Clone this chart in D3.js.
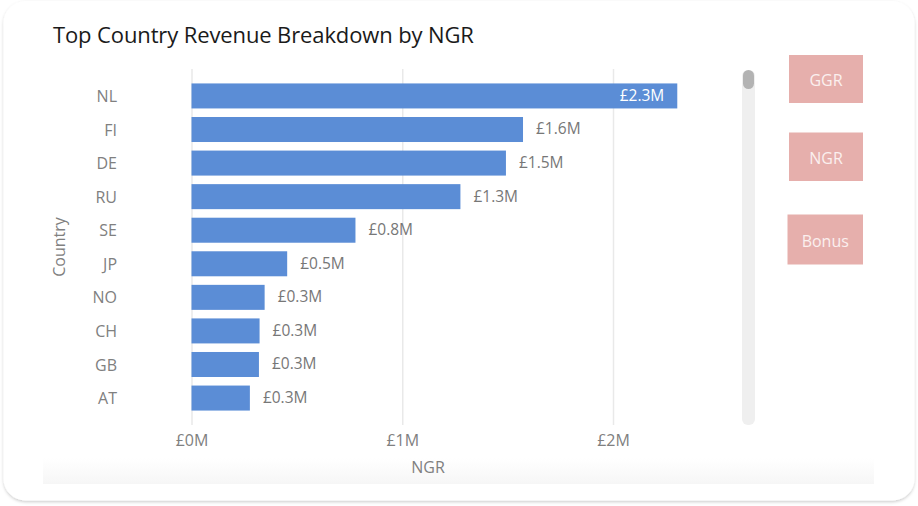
<!DOCTYPE html>
<html>
<head>
<meta charset="utf-8">
<script src="https://cdn.jsdelivr.net/npm/d3@7"></script>
<style>
  html, body { margin: 0; padding: 0; background: #fff; }
  svg { display: block; }
  text { font-family: "Open Sans", "Noto Sans", sans-serif; }
</style>
</head>
<body>
<div id="chart"></div>
<script>
const width = 918;
const height = 506;

const countries = ["NL", "FI", "DE", "RU", "SE", "JP", "NO", "CH", "GB", "AT"];
const ngr = [2.305, 1.573, 1.492, 1.276, 0.778, 0.454, 0.347, 0.323, 0.32, 0.277];
const xTicks = [0, 1, 2];
const buttonLabels = ["GGR", "NGR", "Bonus"];

const x = d3.scaleLinear().domain([0, 2]).range([191.5, 613]);
const y = d3.scaleBand()
  .domain(countries)
  .range([69, 425])
  .paddingInner(0.255)
  .paddingOuter(0.43);

const svg = d3.select("#chart")
  .append("svg")
  .attr("width", width)
  .attr("height", height);

const defs = svg.append("defs");
const shadow = defs.append("filter")
  .attr("id", "card-shadow")
  .attr("x", "-5%").attr("y", "-5%")
  .attr("width", "110%").attr("height", "110%");
shadow.append("feDropShadow")
  .attr("dx", 0).attr("dy", 1.5)
  .attr("stdDeviation", 1.5)
  .attr("flood-color", "#000")
  .attr("flood-opacity", 0.2);

const fade = defs.append("linearGradient")
  .attr("id", "footer-fade")
  .attr("x1", 0).attr("y1", 0).attr("x2", 0).attr("y2", 1);
fade.append("stop").attr("offset", "0%").attr("stop-color", "#fff");
fade.append("stop").attr("offset", "100%").attr("stop-color", "#f6f6f6");

// card
svg.append("rect")
  .attr("x", 3.5).attr("y", 1)
  .attr("width", 911).attr("height", 499.5)
  .attr("rx", 22)
  .attr("fill", "#fff")
  .attr("filter", "url(#card-shadow)");

svg.append("rect")
  .attr("x", 43).attr("y", 458)
  .attr("width", 831).attr("height", 26)
  .attr("fill", "url(#footer-fade)");

svg.append("text")
  .attr("x", 53).attr("y", 43)
  .attr("font-size", 22)
  .attr("letter-spacing", -0.12)
  .attr("fill", "#1a1a1a")
  .text("Top Country Revenue Breakdown by NGR");

// x axis and grid
const xAxis = svg.append("g")
  .attr("transform", "translate(0,425)")
  .call(d3.axisBottom(x)
    .tickValues(xTicks)
    .tickFormat(d => `£${d}M`)
    .tickSize(-356)
    .tickPadding(10));
xAxis.select(".domain").remove();
xAxis.selectAll("line").attr("stroke", "#e9e9e9").attr("stroke-width", 1.5);
xAxis.selectAll("text")
  .attr("font-size", 16)
  .attr("fill", "#808080");

// y axis
const yAxis = svg.append("g")
  .attr("transform", "translate(117,1)")
  .call(d3.axisLeft(y).tickSize(0).tickPadding(0));
yAxis.select(".domain").remove();
yAxis.selectAll("text")
  .attr("font-size", 16)
  .attr("fill", "#808080");

svg.append("text")
  .attr("transform", "translate(65,247) rotate(-90)")
  .attr("text-anchor", "middle")
  .attr("font-size", 16)
  .attr("fill", "#808080")
  .text("Country");

svg.append("text")
  .attr("x", 428).attr("y", 473)
  .attr("text-anchor", "middle")
  .attr("font-size", 16)
  .attr("fill", "#808080")
  .text("NGR");

// bars
const rows = countries.map((c, i) => ({ country: c, value: ngr[i] }));
const maxValue = d3.max(ngr);

svg.append("g")
  .selectAll("rect")
  .data(rows)
  .join("rect")
  .attr("x", x(0))
  .attr("y", d => y(d.country))
  .attr("width", d => x(d.value) - x(0))
  .attr("height", y.bandwidth())
  .attr("fill", "#5b8dd6");

svg.append("g")
  .selectAll("text")
  .data(rows)
  .join("text")
  .attr("x", d => d.value === maxValue ? x(d.value) - 13 : x(d.value) + 13)
  .attr("y", d => y(d.country) + y.bandwidth() / 2 - 0.5)
  .attr("dy", "0.35em")
  .attr("text-anchor", d => d.value === maxValue ? "end" : "start")
  .attr("font-size", 15.5)
  .attr("fill", d => d.value === maxValue ? "#fff" : "#777")
  .text(d => `£${d.value.toFixed(1)}M`);

// scrollbar
svg.append("rect")
  .attr("x", 742).attr("y", 70)
  .attr("width", 13).attr("height", 355)
  .attr("rx", 6)
  .attr("fill", "#efefef");
svg.append("rect")
  .attr("x", 743).attr("y", 70)
  .attr("width", 11).attr("height", 19)
  .attr("rx", 5.5)
  .attr("fill", "#b3b3b3");

// buttons on the right
const buttonBoxes = [
  { x: 789, y: 55, w: 74, h: 48 },
  { x: 789, y: 132.5, w: 74, h: 48.5 },
  { x: 787.5, y: 214.5, w: 75.5, h: 50 }
];
const buttons = svg.append("g")
  .selectAll("g")
  .data(buttonLabels)
  .join("g")
  .attr("transform", (d, i) => `translate(${buttonBoxes[i].x},${buttonBoxes[i].y})`);
buttons.append("rect")
  .attr("width", (d, i) => buttonBoxes[i].w)
  .attr("height", (d, i) => buttonBoxes[i].h)
  .attr("fill", "#e6afac");
buttons.append("text")
  .attr("x", (d, i) => buttonBoxes[i].w / 2)
  .attr("y", (d, i) => buttonBoxes[i].h / 2 + 1.5)
  .attr("dy", "0.35em")
  .attr("text-anchor", "middle")
  .attr("font-size", 16)
  .attr("fill", "#fbf0ef")
  .text(d => d);
</script>
</body>
</html>
